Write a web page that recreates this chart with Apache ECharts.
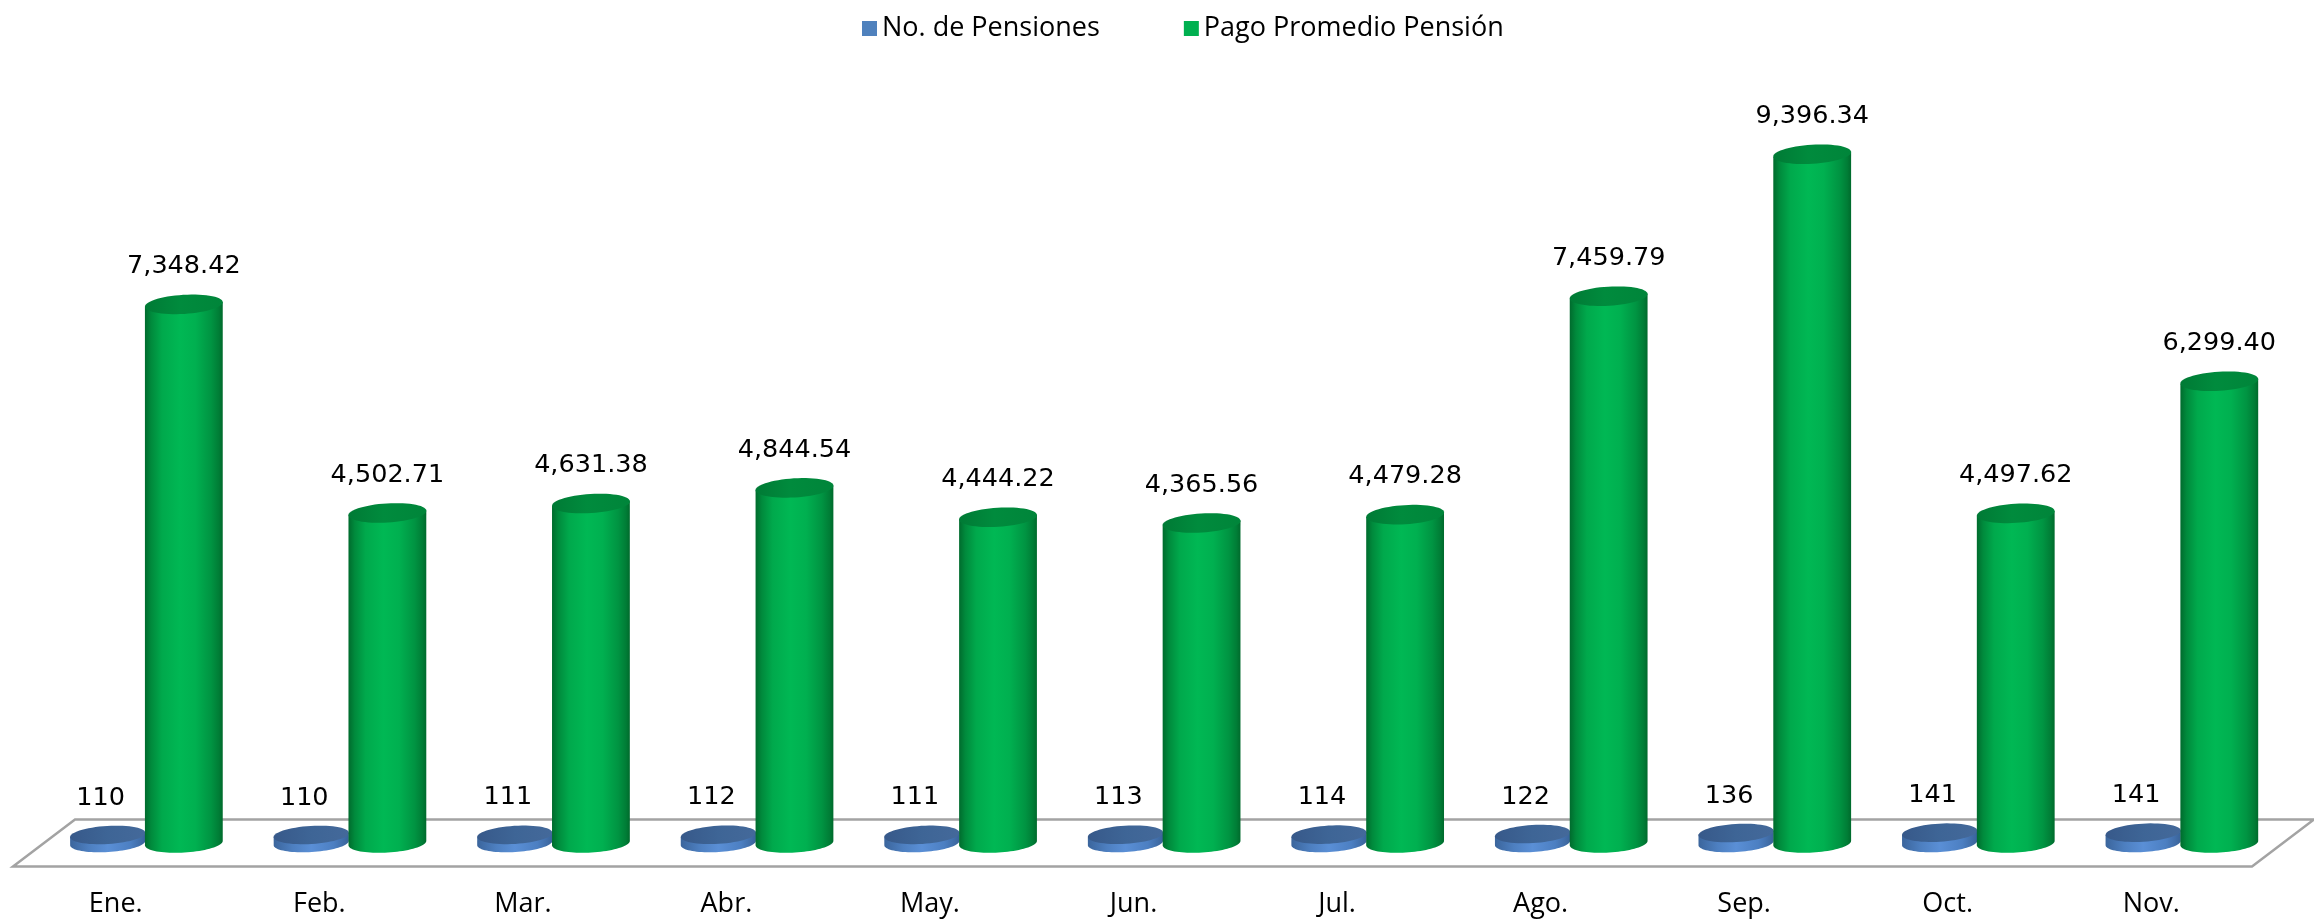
<!DOCTYPE html>
<html>
<head>
<meta charset="utf-8">
<title>Pensiones</title>
<script src="https://cdn.jsdelivr.net/npm/echarts@6/dist/echarts.min.js"></script>
<style>
  html, body { margin: 0; padding: 0; background: #ffffff; }
  #chart { width: 2314px; height: 924px; }
</style>
</head>
<body>
<div id="chart"></div>
<script>
// Monthly figures
const months = ['Ene.', 'Feb.', 'Mar.', 'Abr.', 'May.', 'Jun.', 'Jul.', 'Ago.', 'Sep.', 'Oct.', 'Nov.'];
const numPensiones = [110, 110, 111, 112, 111, 113, 114, 122, 136, 141, 141];
const pagoPromedio = [7348.42, 4502.71, 4631.38, 4844.54, 4444.22, 4365.56, 4479.28, 7459.79, 9396.34, 4497.62, 6299.40];
const seriesNames = ['No. de Pensiones', 'Pago Promedio Pensión'];

const fmtInt = v => v.toLocaleString('en-US', { maximumFractionDigits: 0 });
const fmtDec = v => v.toLocaleString('en-US', { minimumFractionDigits: 2, maximumFractionDigits: 2 });

// points of a slightly tilted ellipse, parameter t from a0 to a1
function ellipsePts(cx, cy, rx, ry, a0, a1, n, tilt) {
  const pts = [];
  const c = Math.cos(tilt), s = Math.sin(tilt);
  for (let k = 0; k <= n; k++) {
    const t = a0 + (a1 - a0) * k / n;
    const ex = rx * Math.cos(t), ey = ry * Math.sin(t);
    pts.push([cx + ex * c - ey * s, cy + ex * s + ey * c]);
  }
  return pts;
}

function hGrad(stops) {
  return { type: 'linear', x: 0, y: 0, x2: 1, y2: 0, global: false,
    colorStops: stops.map(s => ({ offset: s[0], color: s[1] })) };
}

// cylinder renderer: offset and width are fractions of the category band
function cylinderRenderer(opts) {
  return function (params, api) {
    const idx = api.value(0);
    const val = api.value(1);
    const band = api.size([1, 0])[0];
    const top = api.coord([idx, val]);
    const base = api.coord([idx, 0]);
    const rx = band * opts.width / 2;
    const ry = rx * opts.ryRatio;
    const cx = top[0] + band * opts.offset;
    const tilt = -3.5 * Math.PI / 180;
    const bottomArc = ellipsePts(cx, base[1], rx, ry, Math.PI, 0, 40, tilt);
    const topLeft = ellipsePts(cx, top[1], rx, ry, Math.PI, Math.PI, 1, tilt)[0];
    const topRight = ellipsePts(cx, top[1], rx, ry, 0, 0, 1, tilt)[0];
    const bodyPts = [topLeft].concat(bottomArc).concat([topRight]);
    const topPts = ellipsePts(cx, top[1], rx, ry, 0, Math.PI * 2, 60, tilt);
    return {
      type: 'group',
      children: [
        { type: 'polygon', shape: { points: bodyPts }, style: { fill: hGrad(opts.body) } },
        { type: 'polygon', shape: { points: topPts }, style: { fill: hGrad(opts.top) } },
        {
          type: 'text',
          style: {
            text: opts.fmt(val),
            x: cx + opts.labelDx,
            y: top[1] - opts.labelDy,
            align: 'center',
            verticalAlign: 'middle',
            fontSize: 25.5,
            fontFamily: '"DejaVu Sans", Verdana, sans-serif',
            fill: '#000000'
          }
        }
      ]
    };
  };
}

// floor plane under the cylinders
function floorRenderer(params, api) {
  const band = api.size([1, 0])[0];
  const first = api.coord([0, 0]);
  const last = api.coord([months.length - 1, 0]);
  const x0 = first[0] - band / 2;
  const x1 = last[0] + band / 2;
  const y = first[1];
  const dx = 31, dy = 23.5;
  return {
    type: 'polygon',
    shape: { points: [[x0 + dx, y - dy], [x1 + dx, y - dy], [x1 - dx, y + dy], [x0 - dx, y + dy]] },
    style: { fill: '#ffffff', stroke: '#a3a3a3', lineWidth: 2.5 }
  };
}

const chart = echarts.init(document.getElementById('chart'), null, { renderer: 'canvas' });

chart.setOption({
  backgroundColor: '#ffffff',
  animation: false,
  legend: {
    data: seriesNames,
    left: 857,
    top: 10,
    icon: 'rect',
    itemWidth: 15,
    itemHeight: 15,
    itemGap: 84,
    textStyle: { fontFamily: '"Open Sans", sans-serif', fontSize: 27, color: '#000000' }
  },
  grid: { left: 44, right: 31, top: 110, bottom: 81, containLabel: false },
  xAxis: {
    type: 'category',
    data: months,
    axisLine: { show: false },
    axisTick: { show: false },
    axisLabel: {
      margin: 48,
      padding: [0, 60, 0, 0],
      fontFamily: '"Open Sans", sans-serif',
      fontSize: 27,
      color: '#000000'
    }
  },
  yAxis: {
    type: 'value',
    min: 0,
    max: 10000,
    show: false,
    splitLine: { show: false }
  },
  series: [
    {
      name: 'floor',
      type: 'custom',
      renderItem: floorRenderer,
      data: [[0, 0]],
      encode: { x: 0, y: 1 },
      silent: true,
      z: 1
    },
    {
      name: seriesNames[0],
      type: 'custom',
      itemStyle: { color: '#4F81BD' },
      encode: { x: 0, y: 1 },
      data: numPensiones.map((v, i) => [i, v]),
      z: 2,
      renderItem: cylinderRenderer({
        offset: -0.187, width: 0.37, ryRatio: 0.24, labelDx: -7, labelDy: 37, fmt: fmtInt,
        body: [[0, '#3b659c'], [0.25, '#4d7fc0'], [0.5, '#5a8fd6'], [0.8, '#4c7fc2'], [1, '#3a6399']],
        top: [[0, '#37598a'], [0.5, '#3e6596'], [1, '#44699a']]
      })
    },
    {
      name: seriesNames[1],
      type: 'custom',
      itemStyle: { color: '#00B050' },
      encode: { x: 0, y: 1 },
      data: pagoPromedio.map((v, i) => [i, v]),
      z: 3,
      renderItem: cylinderRenderer({
        offset: 0.187, width: 0.383, ryRatio: 0.245, labelDx: 0, labelDy: 38, fmt: fmtDec,
        body: [[0, '#006b2d'], [0.08, '#008a3c'], [0.22, '#00a94c'], [0.45, '#00b854'], [0.65, '#00b050'], [0.85, '#009442'], [0.95, '#007d36'], [1, '#006a2c']],
        top: [[0, '#007a35'], [0.45, '#008b3d'], [1, '#00853a']]
      })
    }
  ]
});
</script>
</body>
</html>
